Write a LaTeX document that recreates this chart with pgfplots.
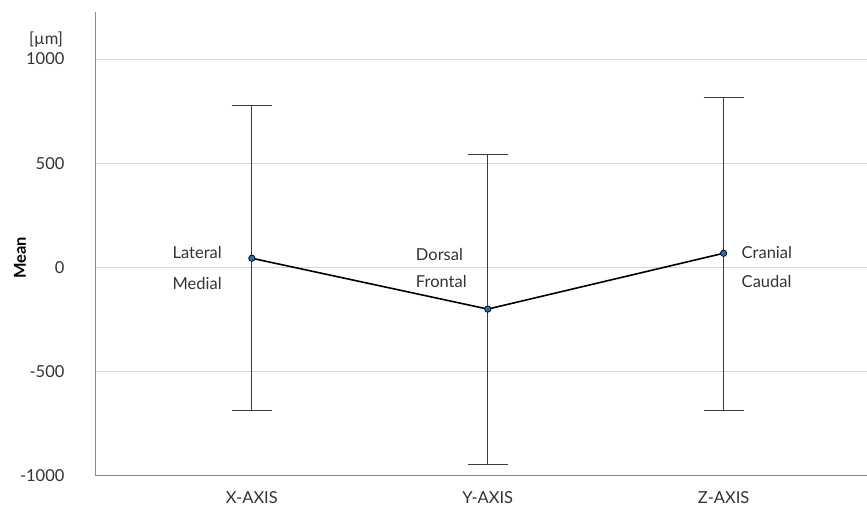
\documentclass[border=0pt]{standalone}
\usepackage{pgfplots}
\pgfplotsset{compat=1.18}
\usepackage{fontspec}
\setmainfont{Lato}
\definecolor{txt}{HTML}{333333}
\definecolor{gridc}{HTML}{D4D4D4}
\definecolor{axc}{HTML}{8A8A8A}
\definecolor{barc}{HTML}{3C3C3C}
\definecolor{ptc}{HTML}{1F6FB2}
\begin{document}
\begin{tikzpicture}
\begin{axis}[
  scale only axis,
  width=771pt, height=464pt,
  xmin=-0.661, xmax=2.606,
  ymin=-1000, ymax=1226,
  clip=false,
  axis x line=bottom, axis y line=left,
  axis line style={axc, line width=0.9pt, -},
  xtick={0,1,2}, xticklabels={X-AXIS,Y-AXIS,Z-AXIS},
  ytick={-1000,-500,0,500,1000},
  major tick length=0pt,
  ymajorgrids, grid style={gridc, line width=0.9pt},
  tick label style={font=\fontsize{16.5}{19}\selectfont, text=txt},
  /pgf/number format/assume math mode=true,
  /pgf/number format/1000 sep={},
  yticklabel style={anchor=east, xshift=-28pt},
  xticklabel style={anchor=north, yshift=-12pt},
]
% bounding box to reference proportions
\path ([xshift=-96pt,yshift=-31pt]rel axis cs:0,0) rectangle ([yshift=12pt]rel axis cs:1,1);
% error bars
\addplot[draw=none, mark=none, forget plot,
  error bars/.cd, y dir=both, y explicit,
  error bar style={barc, line width=1.2pt},
  error mark options={barc, line width=1.2pt, rotate=90, mark size=20pt}]
  coordinates {
    (0,44)   -= (0,729) += (0,734)
    (1,-200) -= (0,746) += (0,743)
    (2,68)   -= (0,753) += (0,748)
  };
% mean line
\addplot[black, line width=1.6pt, mark=*, mark size=3.2pt,
  mark options={fill=ptc, draw=black, line width=0.7pt}]
  coordinates {(0,44) (1,-200) (2,68)};
% labels
\tikzset{lab/.style={font=\fontsize{16.5}{19}\selectfont, text=txt, inner sep=0pt}}
\node[lab, anchor=east] at (axis cs:-0.127,72) {Lateral};
\node[lab, anchor=east] at (axis cs:-0.127,-77) {Medial};
\node[lab, anchor=west] at (axis cs:0.695,62) {Dorsal};
\node[lab, anchor=west] at (axis cs:0.695,-67) {Frontal};
\node[lab, anchor=west] at (axis cs:2.076,72) {Cranial};
\node[lab, anchor=west] at (axis cs:2.076,-67) {Caudal};
\node[lab, anchor=center] at ([xshift=-50pt,yshift=-28pt]rel axis cs:0,1) {[µm]};
\node[font=\bfseries\fontsize{16.5}{19}\selectfont, text=black, rotate=90, inner sep=0pt]
  at ([xshift=-76pt]axis cs:-0.661,45) {Mean};
\end{axis}
\end{tikzpicture}
\end{document}
